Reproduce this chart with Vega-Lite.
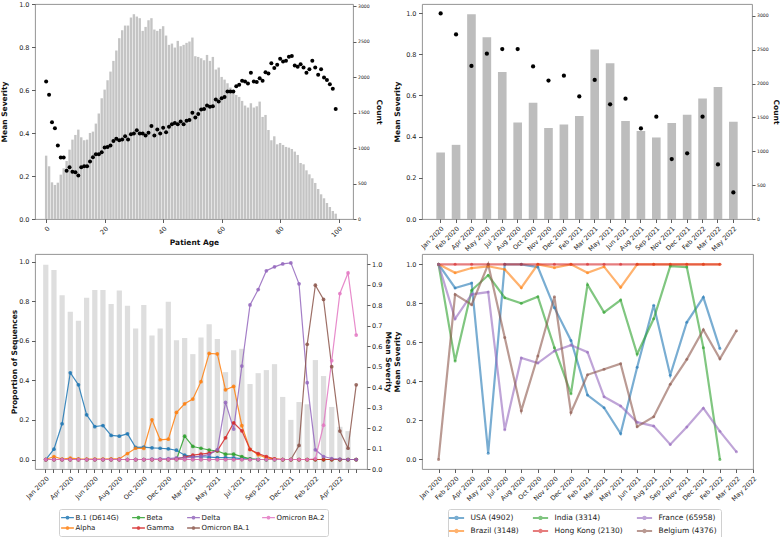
{
 "$schema": "https://vega.github.io/schema/vega-lite/v6.json",
 "padding": {"left": 0, "top": 0, "right": 0, "bottom": 0},
 "config": {
  "font": "DejaVu Sans",
  "view": {"stroke": "#888888", "strokeWidth": 0.9},
  "axis": {"grid": false, "domain": false, "tickColor": "#333333", "tickSize": 3.5, "tickWidth": 0.8, "labelColor": "#222222", "labelFontSize": 6.5, "labelPadding": 2.5, "titleFontSize": 7.5, "titleFontWeight": "bold", "titleColor": "#111111", "labelOverlap": false, "labelFlush": false},
  "axisRight": {"tickSize": 3, "labelPadding": 1.5},
  "legend": {"labelColor": "#222222"}
 },
 "datasets": {
  "ages": [
   {"age":0,"count":893,"sev":0.640},{"age":1,"count":743,"sev":0.578},{"age":2,"count":517,"sev":0.450},{"age":3,"count":480,"sev":0.422},{"age":4,"count":512,"sev":0.342},
   {"age":5,"count":625,"sev":0.286},{"age":6,"count":715,"sev":0.286},{"age":7,"count":818,"sev":0.224},{"age":8,"count":978,"sev":0.241},{"age":9,"count":1119,"sev":0.220},
   {"age":10,"count":1185,"sev":0.217},{"age":11,"count":1260,"sev":0.202},{"age":12,"count":1152,"sev":0.241},{"age":13,"count":1110,"sev":0.245},{"age":14,"count":1119,"sev":0.245},
   {"age":15,"count":1213,"sev":0.267},{"age":16,"count":1232,"sev":0.287},{"age":17,"count":1345,"sev":0.301},{"age":18,"count":1486,"sev":0.301},{"age":19,"count":1702,"sev":0.311},
   {"age":20,"count":1824,"sev":0.332},{"age":21,"count":1956,"sev":0.335},{"age":22,"count":2078,"sev":0.342},{"age":23,"count":2229,"sev":0.363},{"age":24,"count":2375,"sev":0.373},
   {"age":25,"count":2549,"sev":0.366},{"age":26,"count":2661,"sev":0.370},{"age":27,"count":2727,"sev":0.385},{"age":28,"count":2727,"sev":0.370},{"age":29,"count":2840,"sev":0.394},
   {"age":30,"count":2887,"sev":0.398},{"age":31,"count":2854,"sev":0.413},{"age":32,"count":2831,"sev":0.398},{"age":33,"count":2652,"sev":0.398},{"age":34,"count":2708,"sev":0.388},
   {"age":35,"count":2802,"sev":0.401},{"age":36,"count":2831,"sev":0.432},{"age":37,"count":2671,"sev":0.388},{"age":38,"count":2652,"sev":0.416},{"age":39,"count":2680,"sev":0.398},
   {"age":40,"count":2718,"sev":0.425},{"age":41,"count":2586,"sev":0.404},{"age":42,"count":2455,"sev":0.429},{"age":43,"count":2473,"sev":0.441},{"age":44,"count":2417,"sev":0.447},
   {"age":45,"count":2511,"sev":0.441},{"age":46,"count":2436,"sev":0.453},{"age":47,"count":2455,"sev":0.441},{"age":48,"count":2483,"sev":0.457},{"age":49,"count":2502,"sev":0.460},
   {"age":50,"count":2558,"sev":0.494},{"age":51,"count":2295,"sev":0.472},{"age":52,"count":2285,"sev":0.488},{"age":53,"count":2266,"sev":0.509},{"age":54,"count":2238,"sev":0.512},
   {"age":55,"count":2313,"sev":0.528},{"age":56,"count":2229,"sev":0.522},{"age":57,"count":2285,"sev":0.525},{"age":58,"count":2107,"sev":0.556},{"age":59,"count":2135,"sev":0.547},
   {"age":60,"count":2003,"sev":0.562},{"age":61,"count":1965,"sev":0.568},{"age":62,"count":1914,"sev":0.593},{"age":63,"count":1853,"sev":0.593},{"age":64,"count":1815,"sev":0.593},
   {"age":65,"count":1749,"sev":0.618},{"age":66,"count":1721,"sev":0.624},{"age":67,"count":1665,"sev":0.643},{"age":68,"count":1599,"sev":0.640},{"age":69,"count":1571,"sev":0.630},
   {"age":70,"count":1632,"sev":0.680},{"age":71,"count":1571,"sev":0.640},{"age":72,"count":1589,"sev":0.637},{"age":73,"count":1655,"sev":0.655},{"age":74,"count":1439,"sev":0.643},
   {"age":75,"count":1467,"sev":0.683},{"age":76,"count":1255,"sev":0.677},{"age":77,"count":1110,"sev":0.724},{"age":78,"count":1166,"sev":0.702},{"age":79,"count":1053,"sev":0.717},
   {"age":80,"count":1072,"sev":0.745},{"age":81,"count":1044,"sev":0.733},{"age":82,"count":1016,"sev":0.736},{"age":83,"count":1006,"sev":0.755},{"age":84,"count":987,"sev":0.758},
   {"age":85,"count":950,"sev":0.714},{"age":86,"count":903,"sev":0.708},{"age":87,"count":790,"sev":0.720},{"age":88,"count":771,"sev":0.705},{"age":89,"count":686,"sev":0.680},
   {"age":90,"count":630,"sev":0.696},{"age":91,"count":574,"sev":0.736},{"age":92,"count":508,"sev":0.705},{"age":93,"count":423,"sev":0.671},{"age":94,"count":348,"sev":0.696},
   {"age":95,"count":292,"sev":0.658},{"age":96,"count":226,"sev":0.646},{"age":97,"count":169,"sev":0.627},{"age":98,"count":113,"sev":0.606},{"age":99,"count":75,"sev":0.512}
  ],
  "months": [
   {"month":"Jan 2020","count":982,"sev":0.998},{"month":"Feb 2020","count":1095,"sev":0.896},{"month":"Apr 2020","count":3024,"sev":0.743},{"month":"May 2020","count":2684,"sev":0.803},
   {"month":"Jul 2020","count":2171,"sev":0.825},{"month":"Aug 2020","count":1426,"sev":0.825},{"month":"Oct 2020","count":1717,"sev":0.741},{"month":"Nov 2020","count":1342,"sev":0.672},
   {"month":"Dec 2020","count":1396,"sev":0.696},{"month":"Feb 2021","count":1520,"sev":0.595},{"month":"Mar 2021","count":2502,"sev":0.675},{"month":"May 2021","count":2299,"sev":0.557},
   {"month":"Jun 2021","count":1446,"sev":0.584},{"month":"Aug 2021","count":1298,"sev":0.440},{"month":"Sep 2021","count":1204,"sev":0.497},{"month":"Nov 2021","count":1416,"sev":0.291},
   {"month":"Dec 2021","count":1539,"sev":0.319},{"month":"Feb 2022","count":1781,"sev":0.497},{"month":"Mar 2022","count":1949,"sev":0.265},{"month":"May 2022","count":1436,"sev":0.129}
  ],
  "weeksev": [
   {"t":0,"sev":0.998},{"t":1,"sev":0.972},{"t":2,"sev":0.848},{"t":3,"sev":0.768},{"t":4,"sev":0.724},{"t":5,"sev":0.836},{"t":6,"sev":0.874},{"t":7,"sev":0.874},
   {"t":8,"sev":0.806},{"t":9,"sev":0.872},{"t":10,"sev":0.797},{"t":11,"sev":0.686},{"t":12,"sev":0.801},{"t":13,"sev":0.652},{"t":14,"sev":0.686},{"t":15,"sev":0.817},
   {"t":16,"sev":0.629},{"t":17,"sev":0.640},{"t":18,"sev":0.561},{"t":19,"sev":0.642},{"t":20,"sev":0.707},{"t":21,"sev":0.635},{"t":22,"sev":0.473},{"t":23,"sev":0.580},
   {"t":24,"sev":0.587},{"t":25,"sev":0.415},{"t":26,"sev":0.468},{"t":27,"sev":0.483},{"t":28,"sev":0.512},{"t":29,"sev":0.352},{"t":30,"sev":0.240},{"t":31,"sev":0.327},
   {"t":32,"sev":0.316},{"t":33,"sev":0.532},{"t":34,"sev":0.454},{"t":35,"sev":0.303},{"t":36,"sev":0.206},{"t":37,"sev":0.185}
  ],
  "variants": [
   {"t":0,"variant":"B.1 (D614G)","prop":0},{"t":1,"variant":"B.1 (D614G)","prop":0.052},{"t":2,"variant":"B.1 (D614G)","prop":0.181},{"t":3,"variant":"B.1 (D614G)","prop":0.439},{"t":4,"variant":"B.1 (D614G)","prop":0.378},{"t":5,"variant":"B.1 (D614G)","prop":0.226},{"t":6,"variant":"B.1 (D614G)","prop":0.166},{"t":7,"variant":"B.1 (D614G)","prop":0.172},{"t":8,"variant":"B.1 (D614G)","prop":0.122},{"t":9,"variant":"B.1 (D614G)","prop":0.118},{"t":10,"variant":"B.1 (D614G)","prop":0.130},{"t":11,"variant":"B.1 (D614G)","prop":0.061},{"t":12,"variant":"B.1 (D614G)","prop":0.063},{"t":13,"variant":"B.1 (D614G)","prop":0.059},{"t":14,"variant":"B.1 (D614G)","prop":0.057},{"t":15,"variant":"B.1 (D614G)","prop":0.054},{"t":16,"variant":"B.1 (D614G)","prop":0.047},{"t":17,"variant":"B.1 (D614G)","prop":0.022},{"t":18,"variant":"B.1 (D614G)","prop":0.015},{"t":19,"variant":"B.1 (D614G)","prop":0.014},{"t":20,"variant":"B.1 (D614G)","prop":0.012},{"t":21,"variant":"B.1 (D614G)","prop":0.010},{"t":22,"variant":"B.1 (D614G)","prop":0.010},{"t":23,"variant":"B.1 (D614G)","prop":0.008},{"t":24,"variant":"B.1 (D614G)","prop":0.005},{"t":25,"variant":"B.1 (D614G)","prop":0.002},{"t":26,"variant":"B.1 (D614G)","prop":0},{"t":27,"variant":"B.1 (D614G)","prop":0},{"t":28,"variant":"B.1 (D614G)","prop":0},{"t":29,"variant":"B.1 (D614G)","prop":0},{"t":30,"variant":"B.1 (D614G)","prop":0},{"t":31,"variant":"B.1 (D614G)","prop":0},{"t":32,"variant":"B.1 (D614G)","prop":0},{"t":33,"variant":"B.1 (D614G)","prop":0},{"t":34,"variant":"B.1 (D614G)","prop":0},{"t":35,"variant":"B.1 (D614G)","prop":0},{"t":36,"variant":"B.1 (D614G)","prop":0},{"t":37,"variant":"B.1 (D614G)","prop":0},{"t":38,"variant":"B.1 (D614G)","prop":0},
   {"t":0,"variant":"Alpha","prop":0},{"t":1,"variant":"Alpha","prop":0.015},{"t":2,"variant":"Alpha","prop":0.002},{"t":3,"variant":"Alpha","prop":0.007},{"t":4,"variant":"Alpha","prop":0.003},{"t":5,"variant":"Alpha","prop":0.002},{"t":6,"variant":"Alpha","prop":0.002},{"t":7,"variant":"Alpha","prop":0.002},{"t":8,"variant":"Alpha","prop":0.003},{"t":9,"variant":"Alpha","prop":0.003},{"t":10,"variant":"Alpha","prop":0.030},{"t":11,"variant":"Alpha","prop":0.057},{"t":12,"variant":"Alpha","prop":0.056},{"t":13,"variant":"Alpha","prop":0.201},{"t":14,"variant":"Alpha","prop":0.100},{"t":15,"variant":"Alpha","prop":0.103},{"t":16,"variant":"Alpha","prop":0.238},{"t":17,"variant":"Alpha","prop":0.282},{"t":18,"variant":"Alpha","prop":0.306},{"t":19,"variant":"Alpha","prop":0.394},{"t":20,"variant":"Alpha","prop":0.537},{"t":21,"variant":"Alpha","prop":0.534},{"t":22,"variant":"Alpha","prop":0.353},{"t":23,"variant":"Alpha","prop":0.370},{"t":24,"variant":"Alpha","prop":0.171},{"t":25,"variant":"Alpha","prop":0.051},{"t":26,"variant":"Alpha","prop":0.024},{"t":27,"variant":"Alpha","prop":0.008},{"t":28,"variant":"Alpha","prop":0.002},{"t":29,"variant":"Alpha","prop":0},{"t":30,"variant":"Alpha","prop":0},{"t":31,"variant":"Alpha","prop":0},{"t":32,"variant":"Alpha","prop":0},{"t":33,"variant":"Alpha","prop":0},{"t":34,"variant":"Alpha","prop":0},{"t":35,"variant":"Alpha","prop":0},{"t":36,"variant":"Alpha","prop":0},{"t":37,"variant":"Alpha","prop":0},{"t":38,"variant":"Alpha","prop":0},
   {"t":0,"variant":"Beta","prop":0},{"t":1,"variant":"Beta","prop":0},{"t":2,"variant":"Beta","prop":0},{"t":3,"variant":"Beta","prop":0},{"t":4,"variant":"Beta","prop":0},{"t":5,"variant":"Beta","prop":0},{"t":6,"variant":"Beta","prop":0},{"t":7,"variant":"Beta","prop":0},{"t":8,"variant":"Beta","prop":0},{"t":9,"variant":"Beta","prop":0},{"t":10,"variant":"Beta","prop":0},{"t":11,"variant":"Beta","prop":0},{"t":12,"variant":"Beta","prop":0},{"t":13,"variant":"Beta","prop":0},{"t":14,"variant":"Beta","prop":0},{"t":15,"variant":"Beta","prop":0},{"t":16,"variant":"Beta","prop":0},{"t":17,"variant":"Beta","prop":0.118},{"t":18,"variant":"Beta","prop":0.066},{"t":19,"variant":"Beta","prop":0.057},{"t":20,"variant":"Beta","prop":0.048},{"t":21,"variant":"Beta","prop":0.043},{"t":22,"variant":"Beta","prop":0.027},{"t":23,"variant":"Beta","prop":0.027},{"t":24,"variant":"Beta","prop":0.015},{"t":25,"variant":"Beta","prop":0.003},{"t":26,"variant":"Beta","prop":0},{"t":27,"variant":"Beta","prop":0},{"t":28,"variant":"Beta","prop":0},{"t":29,"variant":"Beta","prop":0},{"t":30,"variant":"Beta","prop":0},{"t":31,"variant":"Beta","prop":0},{"t":32,"variant":"Beta","prop":0},{"t":33,"variant":"Beta","prop":0},{"t":34,"variant":"Beta","prop":0},{"t":35,"variant":"Beta","prop":0},{"t":36,"variant":"Beta","prop":0},{"t":37,"variant":"Beta","prop":0},{"t":38,"variant":"Beta","prop":0},
   {"t":0,"variant":"Gamma","prop":0},{"t":1,"variant":"Gamma","prop":0},{"t":2,"variant":"Gamma","prop":0},{"t":3,"variant":"Gamma","prop":0},{"t":4,"variant":"Gamma","prop":0},{"t":5,"variant":"Gamma","prop":0},{"t":6,"variant":"Gamma","prop":0},{"t":7,"variant":"Gamma","prop":0},{"t":8,"variant":"Gamma","prop":0},{"t":9,"variant":"Gamma","prop":0},{"t":10,"variant":"Gamma","prop":0},{"t":11,"variant":"Gamma","prop":0},{"t":12,"variant":"Gamma","prop":0},{"t":13,"variant":"Gamma","prop":0},{"t":14,"variant":"Gamma","prop":0},{"t":15,"variant":"Gamma","prop":0},{"t":16,"variant":"Gamma","prop":0.003},{"t":17,"variant":"Gamma","prop":0.012},{"t":18,"variant":"Gamma","prop":0.022},{"t":19,"variant":"Gamma","prop":0.027},{"t":20,"variant":"Gamma","prop":0.032},{"t":21,"variant":"Gamma","prop":0.045},{"t":22,"variant":"Gamma","prop":0.11},{"t":23,"variant":"Gamma","prop":0.186},{"t":24,"variant":"Gamma","prop":0.145},{"t":25,"variant":"Gamma","prop":0.051},{"t":26,"variant":"Gamma","prop":0.030},{"t":27,"variant":"Gamma","prop":0.015},{"t":28,"variant":"Gamma","prop":0.003},{"t":29,"variant":"Gamma","prop":0},{"t":30,"variant":"Gamma","prop":0},{"t":31,"variant":"Gamma","prop":0},{"t":32,"variant":"Gamma","prop":0},{"t":33,"variant":"Gamma","prop":0},{"t":34,"variant":"Gamma","prop":0},{"t":35,"variant":"Gamma","prop":0},{"t":36,"variant":"Gamma","prop":0},{"t":37,"variant":"Gamma","prop":0},{"t":38,"variant":"Gamma","prop":0},
   {"t":0,"variant":"Delta","prop":0},{"t":1,"variant":"Delta","prop":0},{"t":2,"variant":"Delta","prop":0},{"t":3,"variant":"Delta","prop":0},{"t":4,"variant":"Delta","prop":0},{"t":5,"variant":"Delta","prop":0},{"t":6,"variant":"Delta","prop":0},{"t":7,"variant":"Delta","prop":0},{"t":8,"variant":"Delta","prop":0},{"t":9,"variant":"Delta","prop":0},{"t":10,"variant":"Delta","prop":0},{"t":11,"variant":"Delta","prop":0},{"t":12,"variant":"Delta","prop":0},{"t":13,"variant":"Delta","prop":0.002},{"t":14,"variant":"Delta","prop":0.003},{"t":15,"variant":"Delta","prop":0.005},{"t":16,"variant":"Delta","prop":0.008},{"t":17,"variant":"Delta","prop":0.008},{"t":18,"variant":"Delta","prop":0.012},{"t":19,"variant":"Delta","prop":0.017},{"t":20,"variant":"Delta","prop":0.025},{"t":21,"variant":"Delta","prop":0.05},{"t":22,"variant":"Delta","prop":0.289},{"t":23,"variant":"Delta","prop":0.154},{"t":24,"variant":"Delta","prop":0.473},{"t":25,"variant":"Delta","prop":0.782},{"t":26,"variant":"Delta","prop":0.86},{"t":27,"variant":"Delta","prop":0.955},{"t":28,"variant":"Delta","prop":0.975},{"t":29,"variant":"Delta","prop":0.99},{"t":30,"variant":"Delta","prop":0.995},{"t":31,"variant":"Delta","prop":0.889},{"t":32,"variant":"Delta","prop":0.389},{"t":33,"variant":"Delta","prop":0.049},{"t":34,"variant":"Delta","prop":0.015},{"t":35,"variant":"Delta","prop":0.005},{"t":36,"variant":"Delta","prop":0.002},{"t":37,"variant":"Delta","prop":0},{"t":38,"variant":"Delta","prop":0},
   {"t":0,"variant":"Omicron BA.1","prop":0},{"t":1,"variant":"Omicron BA.1","prop":0},{"t":2,"variant":"Omicron BA.1","prop":0},{"t":3,"variant":"Omicron BA.1","prop":0},{"t":4,"variant":"Omicron BA.1","prop":0},{"t":5,"variant":"Omicron BA.1","prop":0},{"t":6,"variant":"Omicron BA.1","prop":0},{"t":7,"variant":"Omicron BA.1","prop":0},{"t":8,"variant":"Omicron BA.1","prop":0},{"t":9,"variant":"Omicron BA.1","prop":0},{"t":10,"variant":"Omicron BA.1","prop":0},{"t":11,"variant":"Omicron BA.1","prop":0},{"t":12,"variant":"Omicron BA.1","prop":0},{"t":13,"variant":"Omicron BA.1","prop":0},{"t":14,"variant":"Omicron BA.1","prop":0},{"t":15,"variant":"Omicron BA.1","prop":0},{"t":16,"variant":"Omicron BA.1","prop":0},{"t":17,"variant":"Omicron BA.1","prop":0},{"t":18,"variant":"Omicron BA.1","prop":0},{"t":19,"variant":"Omicron BA.1","prop":0},{"t":20,"variant":"Omicron BA.1","prop":0},{"t":21,"variant":"Omicron BA.1","prop":0},{"t":22,"variant":"Omicron BA.1","prop":0},{"t":23,"variant":"Omicron BA.1","prop":0},{"t":24,"variant":"Omicron BA.1","prop":0},{"t":25,"variant":"Omicron BA.1","prop":0},{"t":26,"variant":"Omicron BA.1","prop":0},{"t":27,"variant":"Omicron BA.1","prop":0},{"t":28,"variant":"Omicron BA.1","prop":0},{"t":29,"variant":"Omicron BA.1","prop":0},{"t":30,"variant":"Omicron BA.1","prop":0},{"t":31,"variant":"Omicron BA.1","prop":0.071},{"t":32,"variant":"Omicron BA.1","prop":0.583},{"t":33,"variant":"Omicron BA.1","prop":0.882},{"t":34,"variant":"Omicron BA.1","prop":0.81},{"t":35,"variant":"Omicron BA.1","prop":0.47},{"t":36,"variant":"Omicron BA.1","prop":0.144},{"t":37,"variant":"Omicron BA.1","prop":0.057},{"t":38,"variant":"Omicron BA.1","prop":0.378},
   {"t":0,"variant":"Omicron BA.2","prop":0},{"t":1,"variant":"Omicron BA.2","prop":0},{"t":2,"variant":"Omicron BA.2","prop":0},{"t":3,"variant":"Omicron BA.2","prop":0},{"t":4,"variant":"Omicron BA.2","prop":0},{"t":5,"variant":"Omicron BA.2","prop":0},{"t":6,"variant":"Omicron BA.2","prop":0},{"t":7,"variant":"Omicron BA.2","prop":0},{"t":8,"variant":"Omicron BA.2","prop":0},{"t":9,"variant":"Omicron BA.2","prop":0},{"t":10,"variant":"Omicron BA.2","prop":0},{"t":11,"variant":"Omicron BA.2","prop":0},{"t":12,"variant":"Omicron BA.2","prop":0},{"t":13,"variant":"Omicron BA.2","prop":0},{"t":14,"variant":"Omicron BA.2","prop":0},{"t":15,"variant":"Omicron BA.2","prop":0},{"t":16,"variant":"Omicron BA.2","prop":0},{"t":17,"variant":"Omicron BA.2","prop":0},{"t":18,"variant":"Omicron BA.2","prop":0},{"t":19,"variant":"Omicron BA.2","prop":0},{"t":20,"variant":"Omicron BA.2","prop":0},{"t":21,"variant":"Omicron BA.2","prop":0},{"t":22,"variant":"Omicron BA.2","prop":0},{"t":23,"variant":"Omicron BA.2","prop":0},{"t":24,"variant":"Omicron BA.2","prop":0},{"t":25,"variant":"Omicron BA.2","prop":0},{"t":26,"variant":"Omicron BA.2","prop":0},{"t":27,"variant":"Omicron BA.2","prop":0},{"t":28,"variant":"Omicron BA.2","prop":0},{"t":29,"variant":"Omicron BA.2","prop":0},{"t":30,"variant":"Omicron BA.2","prop":0},{"t":31,"variant":"Omicron BA.2","prop":0},{"t":32,"variant":"Omicron BA.2","prop":0},{"t":33,"variant":"Omicron BA.2","prop":0.004},{"t":34,"variant":"Omicron BA.2","prop":0.174},{"t":35,"variant":"Omicron BA.2","prop":0.50},{"t":36,"variant":"Omicron BA.2","prop":0.840},{"t":37,"variant":"Omicron BA.2","prop":0.944},{"t":38,"variant":"Omicron BA.2","prop":0.630}
  ],
  "countries": [
   {"month":"Jan 2020","country":"USA (4902)","sev":1.0},{"month":"Feb 2020","country":"USA (4902)","sev":0.879},{"month":"Apr 2020","country":"USA (4902)","sev":0.904},{"month":"May 2020","country":"USA (4902)","sev":0.032},{"month":"Jul 2020","country":"USA (4902)","sev":1.0},{"month":"Aug 2020","country":"USA (4902)","sev":1.0},{"month":"Oct 2020","country":"USA (4902)","sev":0.986},{"month":"Nov 2020","country":"USA (4902)","sev":0.778},{"month":"Dec 2020","country":"USA (4902)","sev":0.610},{"month":"Feb 2021","country":"USA (4902)","sev":0.330},{"month":"Mar 2021","country":"USA (4902)","sev":0.265},{"month":"May 2021","country":"USA (4902)","sev":0.133},{"month":"Jun 2021","country":"USA (4902)","sev":0.472},{"month":"Aug 2021","country":"USA (4902)","sev":0.790},{"month":"Sep 2021","country":"USA (4902)","sev":0.432},{"month":"Nov 2021","country":"USA (4902)","sev":0.703},{"month":"Dec 2021","country":"USA (4902)","sev":0.831},{"month":"Feb 2022","country":"USA (4902)","sev":0.568},
   {"month":"Jan 2020","country":"Brazil (3148)","sev":1.0},{"month":"Feb 2020","country":"Brazil (3148)","sev":0.957},{"month":"Apr 2020","country":"Brazil (3148)","sev":0.981},{"month":"May 2020","country":"Brazil (3148)","sev":0.990},{"month":"Jul 2020","country":"Brazil (3148)","sev":0.974},{"month":"Aug 2020","country":"Brazil (3148)","sev":0.880},{"month":"Oct 2020","country":"Brazil (3148)","sev":1.0},{"month":"Nov 2020","country":"Brazil (3148)","sev":0.983},{"month":"Dec 2020","country":"Brazil (3148)","sev":1.0},{"month":"Feb 2021","country":"Brazil (3148)","sev":0.957},{"month":"Mar 2021","country":"Brazil (3148)","sev":0.988},{"month":"May 2021","country":"Brazil (3148)","sev":0.882},{"month":"Jun 2021","country":"Brazil (3148)","sev":1.0},{"month":"Aug 2021","country":"Brazil (3148)","sev":1.0},{"month":"Sep 2021","country":"Brazil (3148)","sev":1.0},{"month":"Nov 2021","country":"Brazil (3148)","sev":1.0},{"month":"Dec 2021","country":"Brazil (3148)","sev":1.0},{"month":"Feb 2022","country":"Brazil (3148)","sev":1.0},
   {"month":"Jan 2020","country":"India (3314)","sev":1.0},{"month":"Feb 2020","country":"India (3314)","sev":0.504},{"month":"Apr 2020","country":"India (3314)","sev":0.867},{"month":"May 2020","country":"India (3314)","sev":0.944},{"month":"Jul 2020","country":"India (3314)","sev":0.829},{"month":"Aug 2020","country":"India (3314)","sev":0.800},{"month":"Oct 2020","country":"India (3314)","sev":0.834},{"month":"Nov 2020","country":"India (3314)","sev":0.573},{"month":"Dec 2020","country":"India (3314)","sev":0.337},{"month":"Feb 2021","country":"India (3314)","sev":0.896},{"month":"Mar 2021","country":"India (3314)","sev":0.754},{"month":"May 2021","country":"India (3314)","sev":0.817},{"month":"Jun 2021","country":"India (3314)","sev":0.540},{"month":"Aug 2021","country":"India (3314)","sev":0.721},{"month":"Sep 2021","country":"India (3314)","sev":0.991},{"month":"Nov 2021","country":"India (3314)","sev":0.986},{"month":"Dec 2021","country":"India (3314)","sev":0.573},{"month":"Feb 2022","country":"India (3314)","sev":0.0},
   {"month":"Jan 2020","country":"Hong Kong (2130)","sev":1.0},{"month":"Feb 2020","country":"Hong Kong (2130)","sev":1.0},{"month":"Apr 2020","country":"Hong Kong (2130)","sev":1.0},{"month":"May 2020","country":"Hong Kong (2130)","sev":1.0},{"month":"Jul 2020","country":"Hong Kong (2130)","sev":1.0},{"month":"Aug 2020","country":"Hong Kong (2130)","sev":1.0},{"month":"Oct 2020","country":"Hong Kong (2130)","sev":1.0},{"month":"Nov 2020","country":"Hong Kong (2130)","sev":1.0},{"month":"Dec 2020","country":"Hong Kong (2130)","sev":1.0},{"month":"Feb 2021","country":"Hong Kong (2130)","sev":1.0},{"month":"Mar 2021","country":"Hong Kong (2130)","sev":1.0},{"month":"May 2021","country":"Hong Kong (2130)","sev":1.0},{"month":"Jun 2021","country":"Hong Kong (2130)","sev":1.0},{"month":"Aug 2021","country":"Hong Kong (2130)","sev":1.0},{"month":"Sep 2021","country":"Hong Kong (2130)","sev":1.0},{"month":"Nov 2021","country":"Hong Kong (2130)","sev":1.0},{"month":"Dec 2021","country":"Hong Kong (2130)","sev":1.0},{"month":"Feb 2022","country":"Hong Kong (2130)","sev":1.0},
   {"month":"Jan 2020","country":"France (65958)","sev":1.0},{"month":"Feb 2020","country":"France (65958)","sev":0.721},{"month":"Apr 2020","country":"France (65958)","sev":0.846},{"month":"May 2020","country":"France (65958)","sev":0.858},{"month":"Jul 2020","country":"France (65958)","sev":0.152},{"month":"Aug 2020","country":"France (65958)","sev":0.520},{"month":"Oct 2020","country":"France (65958)","sev":0.494},{"month":"Nov 2020","country":"France (65958)","sev":0.556},{"month":"Dec 2020","country":"France (65958)","sev":0.586},{"month":"Feb 2021","country":"France (65958)","sev":0.550},{"month":"Mar 2021","country":"France (65958)","sev":0.321},{"month":"May 2021","country":"France (65958)","sev":0.274},{"month":"Jun 2021","country":"France (65958)","sev":0.191},{"month":"Aug 2021","country":"France (65958)","sev":0.171},{"month":"Sep 2021","country":"France (65958)","sev":0.077},{"month":"Nov 2021","country":"France (65958)","sev":0.166},{"month":"Dec 2021","country":"France (65958)","sev":0.263},{"month":"Feb 2022","country":"France (65958)","sev":0.144},{"month":"Mar 2022","country":"France (65958)","sev":0.039},
   {"month":"Jan 2020","country":"Belgium (4376)","sev":0.0},{"month":"Feb 2020","country":"Belgium (4376)","sev":0.846},{"month":"Apr 2020","country":"Belgium (4376)","sev":0.793},{"month":"May 2020","country":"Belgium (4376)","sev":1.0},{"month":"Jul 2020","country":"Belgium (4376)","sev":0.625},{"month":"Aug 2020","country":"Belgium (4376)","sev":0.250},{"month":"Oct 2020","country":"Belgium (4376)","sev":0.530},{"month":"Nov 2020","country":"Belgium (4376)","sev":0.834},{"month":"Dec 2020","country":"Belgium (4376)","sev":0.241},{"month":"Feb 2021","country":"Belgium (4376)","sev":0.434},{"month":"Mar 2021","country":"Belgium (4376)","sev":0.462},{"month":"May 2021","country":"Belgium (4376)","sev":0.491},{"month":"Jun 2021","country":"Belgium (4376)","sev":0.168},{"month":"Aug 2021","country":"Belgium (4376)","sev":0.219},{"month":"Sep 2021","country":"Belgium (4376)","sev":0.385},{"month":"Nov 2021","country":"Belgium (4376)","sev":0.513},{"month":"Dec 2021","country":"Belgium (4376)","sev":0.665},{"month":"Feb 2022","country":"Belgium (4376)","sev":0.516},{"month":"Mar 2022","country":"Belgium (4376)","sev":0.660}
  ]
 },
 "columns": 2,
 "align": "none",
 "spacing": {"row": 0, "column": 0},
 "resolve": {"scale": {"color": "independent", "x": "independent", "y": "independent"}, "legend": {"color": "independent"}},
 "concat": [
  {
   "width": 318, "height": 215,
   "data": {"name": "ages"},
   "layer": [
    {"mark": {"type": "bar", "color": "#c4c4c4", "size": 2.4},
     "encoding": {
      "x": {"field": "age", "type": "quantitative", "scale": {"domain": [-2.1, 103.2], "nice": false, "zero": false},
            "axis": {"values": [0, 20, 40, 60, 80, 100], "labelAngle": -45, "title": "Patient Age", "titlePadding": 0}},
      "y": {"field": "count", "type": "quantitative", "scale": {"domain": [0, 3031], "nice": false},
            "axis": {"orient": "right", "values": [0, 500, 1000, 1500, 2000, 2500, 3000], "format": "d", "labelFontSize": 4.6, "title": "Count", "titlePadding": 5}}
     }},
    {"mark": {"type": "point", "filled": true, "color": "#000000", "size": 16, "opacity": 1},
     "encoding": {
      "x": {"field": "age", "type": "quantitative"},
      "y": {"field": "sev", "type": "quantitative", "scale": {"domain": [0, 1], "nice": false},
            "axis": {"orient": "left", "values": [0, 0.2, 0.4, 0.6, 0.8, 1], "format": ".1f", "title": "Mean Severity", "titlePadding": 10}}
     }}
   ],
   "resolve": {"scale": {"y": "independent"}}
  },
  {
   "width": 330, "height": 215,
   "data": {"name": "months"},
   "layer": [
    {"mark": {"type": "bar", "color": "#bdbdbd"},
     "encoding": {
      "x": {"field": "month", "type": "ordinal", "sort": null, "scale": {"paddingInner": 0.44, "paddingOuter": 0.93},
            "axis": {"labelAngle": -45, "title": null}},
      "y": {"field": "count", "type": "quantitative", "scale": {"domain": [0, 3175], "nice": false},
            "axis": {"orient": "right", "values": [0, 500, 1000, 1500, 2000, 2500, 3000], "format": "d", "labelFontSize": 4.6, "title": "Count", "titlePadding": 3}}
     }},
    {"mark": {"type": "point", "filled": true, "color": "#000000", "size": 18, "opacity": 1},
     "encoding": {
      "x": {"field": "month", "type": "ordinal", "sort": null},
      "y": {"field": "sev", "type": "quantitative", "scale": {"domain": [0, 1.044], "nice": false},
            "axis": {"orient": "left", "values": [0, 0.2, 0.4, 0.6, 0.8, 1], "format": ".1f", "title": "Mean Severity", "titlePadding": 4}}
     }}
   ],
   "resolve": {"scale": {"y": "independent"}}
  },
  {
   "width": 332, "height": 215,
   "layer": [
    {"data": {"name": "weeksev"},
     "mark": {"type": "bar", "color": "#dedede"},
     "encoding": {
      "x": {"field": "t", "type": "ordinal", "scale": {"paddingInner": 0.36, "paddingOuter": 2.05},
            "axis": {"labelAngle": -45, "title": null, "labelExpr": "datum.value % 3 == 0 ? ['Jan 2020','Apr 2020','Jun 2020','Aug 2020','Oct 2020','Dec 2020','Mar 2021','May 2021','Jul 2021','Sep 2021','Dec 2021','Feb 2022','Apr 2022'][datum.value / 3] : ''"}},
      "y": {"field": "sev", "type": "quantitative", "scale": {"domain": [0, 1.05], "nice": false},
            "axis": {"orient": "right", "values": [0, 0.1, 0.2, 0.3, 0.4, 0.5, 0.6, 0.7, 0.8, 0.9, 1], "format": ".1f", "title": "Mean Severity", "titlePadding": 2}}
     }},
    {"data": {"name": "variants"},
     "layer": [
      {"mark": {"type": "line", "strokeWidth": 1.2, "opacity": 0.85},
       "encoding": {
        "x": {"field": "t", "type": "ordinal"},
        "y": {"field": "prop", "type": "quantitative", "scale": {"domain": [-0.048, 1.04], "nice": false},
              "axis": {"orient": "left", "values": [0, 0.1, 0.2, 0.3, 0.4, 0.5, 0.6, 0.7, 0.8, 0.9, 1], "format": ".1f", "title": "Proportion of Sequences", "titlePadding": 0}},
        "color": {"field": "variant", "type": "nominal",
                  "scale": {"domain": ["B.1 (D614G)", "Beta", "Delta", "Omicron BA.2", "Alpha", "Gamma", "Omicron BA.1"], "range": ["#1f77b4", "#2ca02c", "#9467bd", "#e377c2", "#ff7f0e", "#d62728", "#8c564b"]},
                  "legend": {"orient": "none", "legendX": 24, "legendY": 255, "direction": "horizontal", "columns": 4, "title": null, "symbolType": "M-1.6,0H1.6M-0.3,0A0.3,0.3 0 1,0 0.3,0A0.3,0.3 0 1,0 -0.3,0", "symbolSize": 64, "symbolStrokeWidth": 1.3, "labelFontSize": 7, "labelOffset": 3, "columnPadding": 10, "rowPadding": 1.5, "padding": 3.5, "strokeColor": "#d0d0d0", "fillColor": "#ffffff", "cornerRadius": 2}}
       }},
      {"mark": {"type": "point", "filled": true, "size": 14, "opacity": 0.85},
       "encoding": {
        "x": {"field": "t", "type": "ordinal"},
        "y": {"field": "prop", "type": "quantitative"},
        "color": {"field": "variant", "type": "nominal",
                  "legend": {"orient": "none", "legendX": 24, "legendY": 255, "direction": "horizontal", "columns": 4, "title": null, "symbolType": "M-1.6,0H1.6M-0.3,0A0.3,0.3 0 1,0 0.3,0A0.3,0.3 0 1,0 -0.3,0", "symbolSize": 64, "symbolStrokeWidth": 1.3, "labelFontSize": 7, "labelOffset": 3, "columnPadding": 10, "rowPadding": 1.5, "padding": 3.5, "strokeColor": "#d0d0d0", "fillColor": "#ffffff", "cornerRadius": 2}}
       }}
     ]}
   ],
   "resolve": {"scale": {"y": "independent"}}
  },
  {
   "width": 331, "height": 215,
   "data": {"name": "countries"},
   "layer": [
    {"mark": {"type": "line", "strokeWidth": 2.2, "opacity": 0.6},
     "encoding": {
      "x": {"field": "month", "type": "ordinal", "scale": {"type": "point", "domain": ["Jan 2020", "Feb 2020", "Apr 2020", "May 2020", "Jul 2020", "Aug 2020", "Oct 2020", "Nov 2020", "Dec 2020", "Feb 2021", "Mar 2021", "May 2021", "Jun 2021", "Aug 2021", "Sep 2021", "Nov 2021", "Dec 2021", "Feb 2022", "Mar 2022", "May 2022"], "padding": 0.5, "align": 1},
            "axis": {"labelAngle": -45, "title": null}},
      "y": {"field": "sev", "type": "quantitative", "scale": {"domain": [-0.049, 1.053], "nice": false},
            "axis": {"values": [0, 0.1, 0.2, 0.3, 0.4, 0.5, 0.6, 0.7, 0.8, 0.9, 1], "format": ".1f", "title": "Mean Severity", "titlePadding": 4}},
      "color": {"field": "country", "type": "nominal",
                "scale": {"domain": ["USA (4902)", "India (3314)", "France (65958)", "Brazil (3148)", "Hong Kong (2130)", "Belgium (4376)"], "range": ["#1f77b4", "#2ca02c", "#9467bd", "#ff7f0e", "#d62728", "#8c564b"]},
                "legend": {"orient": "none", "legendX": 26, "legendY": 255, "direction": "horizontal", "columns": 3, "title": null, "symbolType": "M-1.9,0H1.9M-0.3,0A0.3,0.3 0 1,0 0.3,0A0.3,0.3 0 1,0 -0.3,0", "symbolSize": 64, "symbolStrokeWidth": 2, "symbolOpacity": 0.6, "labelFontSize": 7.5, "labelOffset": 9, "columnPadding": 9, "rowPadding": 1.5, "padding": 3.5, "strokeColor": "#d0d0d0", "fillColor": "#ffffff", "cornerRadius": 2}}
     }},
    {"mark": {"type": "point", "filled": true, "size": 9, "opacity": 0.6},
     "encoding": {
      "x": {"field": "month", "type": "ordinal"},
      "y": {"field": "sev", "type": "quantitative"},
      "color": {"field": "country", "type": "nominal",
                "legend": {"orient": "none", "legendX": 26, "legendY": 255, "direction": "horizontal", "columns": 3, "title": null, "symbolType": "M-1.9,0H1.9M-0.3,0A0.3,0.3 0 1,0 0.3,0A0.3,0.3 0 1,0 -0.3,0", "symbolSize": 64, "symbolStrokeWidth": 2, "symbolOpacity": 0.6, "labelFontSize": 7.5, "labelOffset": 9, "columnPadding": 9, "rowPadding": 1.5, "padding": 3.5, "strokeColor": "#d0d0d0", "fillColor": "#ffffff", "cornerRadius": 2}}
     }}
   ]
  }
 ]
}
